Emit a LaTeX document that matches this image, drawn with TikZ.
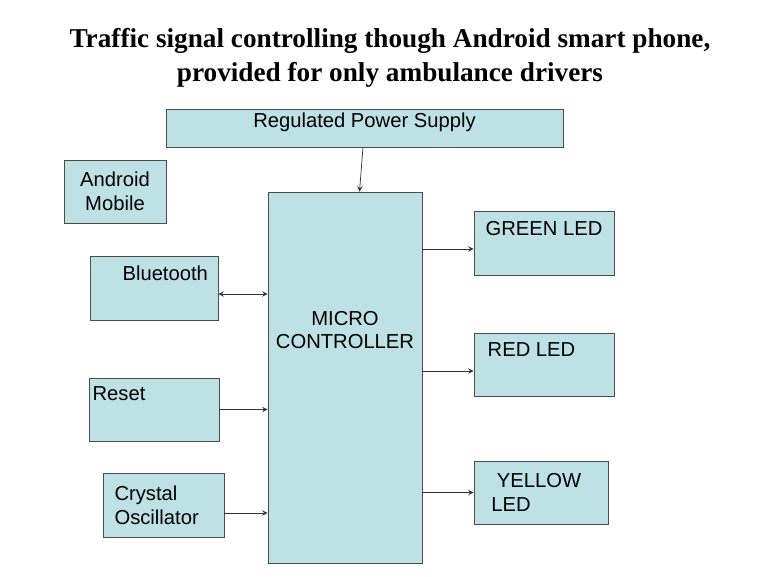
\documentclass[tikz,border=0pt]{standalone}
\usepackage{fontspec}
\setmainfont{Liberation Serif}
\setsansfont{Liberation Sans}
\usetikzlibrary{positioning}
\definecolor{boxfill}{HTML}{BDE1E4}
\tikzset{
  box/.style={draw=black!70, fill=boxfill, font=\sffamily\fontsize{11.5}{13.5}\selectfont, inner sep=2pt, align=left},
  link/.style={->, >=stealth, draw=black!80}
}
\begin{document}
\begin{tikzpicture}[x=0.02cm, y=-0.02cm]
    \useasboundingbox (0,0) rectangle (768,576);
    \node[font=\bfseries\fontsize{15.5}{19}\selectfont, align=center] (title) at (390,58)
        {Traffic signal controlling though Android smart phone,\\provided for only ambulance drivers};
    \node[box, minimum width=7.94cm, minimum height=0.76cm, text depth=0.3cm] (psu) at (364.5,128) {Regulated Power Supply};
    \node[box, minimum width=2.04cm, minimum height=1.26cm, align=center] (mobile) at (115,191.5) {Android\\Mobile};
    \node[box, minimum width=3.08cm, minimum height=7.42cm, align=center, text depth=1.9cm] (mcu) at (345,377.5) {MICRO\\CONTROLLER};
    \node[box, minimum width=2.56cm, minimum height=1.28cm, text depth=0.6cm] (bt) at (154,288) {\hspace*{0.45cm}Bluetooth};
    \node[box, minimum width=2.56cm, minimum height=1.26cm, text depth=0.65cm] (reset) at (154,409.5) {Reset\hspace*{1.4cm}};
    \node[box, minimum width=2.42cm, minimum height=1.28cm] (xtal) at (163.5,505) {Crystal\hspace*{0.7cm}\\Oscillator};
    \node[box, minimum width=2.8cm, minimum height=1.28cm, text depth=0.6cm] (green) at (544,243) {GREEN LED};
    \node[box, minimum width=2.8cm, minimum height=1.26cm, text depth=0.6cm] (red) at (544,364.5) {RED LED\hspace*{0.5cm}};
    \node[box, minimum width=2.68cm, minimum height=1.26cm] (yellow) at (541,492.5) {\ YELLOW\\LED\hspace*{1.2cm}};
    \draw[link] (psu) -- (mcu);
    \draw[link, <->] ([yshift=-0.12cm]bt.east) -- ([yshift=-0.12cm]bt.east -| mcu.west);
    \draw[link] (reset) -- (reset -| mcu.west);
    \draw[link] ([yshift=-0.16cm]xtal.east) -- ([yshift=-0.16cm]xtal.east -| mcu.west);
    \draw[link] ([yshift=-0.12cm]green.west -| mcu.east) -- ([yshift=-0.12cm]green.west);
    \draw[link] ([yshift=-0.13cm]red.west -| mcu.east) -- ([yshift=-0.13cm]red.west);
    \draw[link] (yellow.west -| mcu.east) -- (yellow.west);
\end{tikzpicture}
\end{document}
